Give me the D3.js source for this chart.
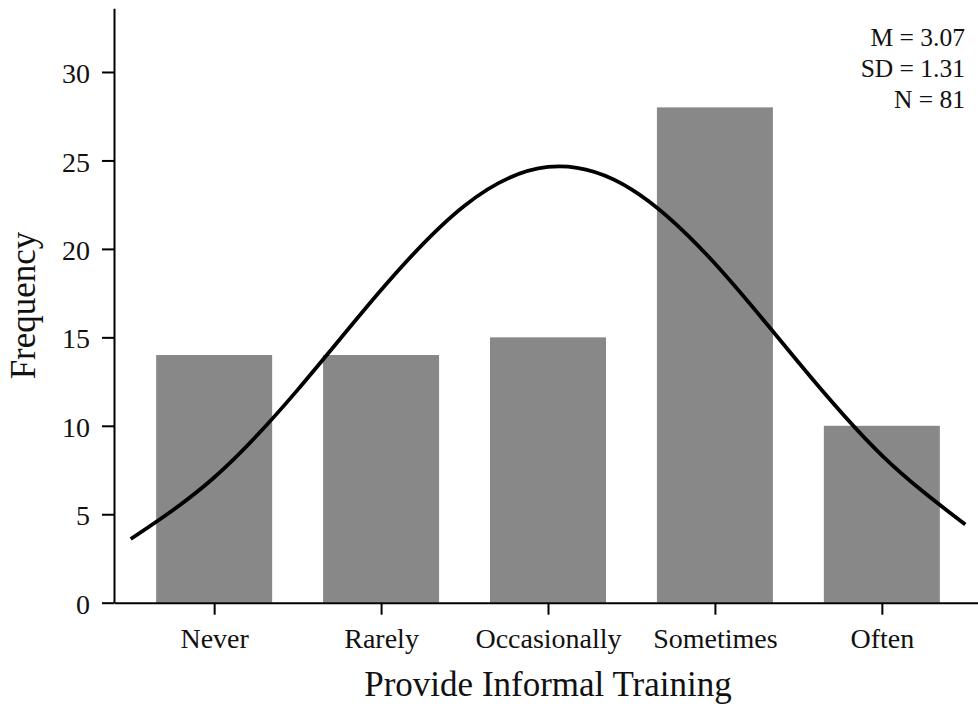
<!DOCTYPE html>
<html>
<head>
<meta charset="utf-8">
<script src="https://cdn.jsdelivr.net/npm/d3@7"></script>
<style>
  html, body { margin: 0; padding: 0; background: #fff; }
  svg { display: block; }
  text { font-family: "Liberation Serif", "Times New Roman", serif; fill: #111; }
</style>
</head>
<body>
<svg id="chart" width="978" height="708"></svg>
<script>
// ---- data ----
const categories = ["Never", "Rarely", "Occasionally", "Sometimes", "Often"];
const frequencies = [14, 14, 15, 28, 10];
const yTicks = [0, 5, 10, 15, 20, 25, 30];
const stats = ["M = 3.07", "SD = 1.31", "N = 81"];
// normal-curve heights at positions 0.5 .. 5.5 (step 0.5)
const curveX = [0.5, 1.0, 1.5, 2.0, 2.5, 3.0, 3.5, 4.0, 4.5, 5.0, 5.5];
const curveY = [3.6, 7.08, 12.03, 17.67, 22.44, 24.63, 23.37, 19.17, 13.59, 8.33, 4.42];
const xTitle = "Provide Informal Training";
const yTitle = "Frequency";

// ---- layout ----
const svg = d3.select("#chart");
const mLeft = 114, mRight = 982, mTop = 8.3, mBottom = 602.7;

const x = d3.scaleLinear().domain([0.4, 5.6]).range([mLeft, mRight]);
const y = d3.scaleLinear().domain([0, 33.6]).range([mBottom, mTop]);
const barW = 0.695;

// bars
svg.append("g").selectAll("rect")
  .data(frequencies)
  .join("rect")
  .attr("x", (d, i) => x(i + 1 - barW / 2))
  .attr("width", (d, i) => x(i + 1 + barW / 2) - x(i + 1 - barW / 2))
  .attr("y", d => y(d))
  .attr("height", d => y(0) - y(d))
  .attr("fill", "#888888");

// normal curve
const line = d3.line()
  .x((d, i) => x(curveX[i]))
  .y(d => y(d))
  .curve(d3.curveNatural);
svg.append("path")
  .attr("d", line(curveY))
  .attr("fill", "none")
  .attr("stroke", "#000")
  .attr("stroke-width", 3.8);

// x axis
const xAxis = d3.axisBottom(x)
  .tickValues([1, 2, 3, 4, 5])
  .tickFormat(d => categories[d - 1])
  .tickSize(12)
  .tickSizeOuter(0)
  .tickPadding(13);
const gx = svg.append("g").attr("transform", `translate(0,${mBottom})`).call(xAxis);
gx.selectAll("text").attr("font-size", 28).attr("font-family", "Liberation Serif").attr("fill", "#111");
gx.selectAll("path, line").attr("stroke", "#000").attr("stroke-width", 2);

// y axis
const yAxis = d3.axisLeft(y)
  .tickValues(yTicks)
  .tickSize(12)
  .tickSizeOuter(0)
  .tickPadding(12);
const gy = svg.append("g").attr("transform", `translate(${mLeft},0)`).call(yAxis);
gy.selectAll("text").attr("font-size", 28).attr("font-family", "Liberation Serif").attr("fill", "#111").attr("dy", "0.38em");
gy.selectAll("path, line").attr("stroke", "#000").attr("stroke-width", 2);

// titles
svg.append("text")
  .attr("x", x(3)).attr("y", 696)
  .attr("text-anchor", "middle")
  .attr("font-size", 35)
  .text(xTitle);

svg.append("text")
  .attr("transform", `translate(35,${(mTop + mBottom) / 2}) rotate(-90)`)
  .attr("text-anchor", "middle")
  .attr("font-size", 35)
  .text(yTitle);

// stats
svg.append("g").selectAll("text")
  .data(stats)
  .join("text")
  .attr("x", 965)
  .attr("y", (d, i) => 46 + i * 31)
  .attr("text-anchor", "end")
  .attr("font-size", 25.5)
  .text(d => d);
</script>
</body>
</html>
